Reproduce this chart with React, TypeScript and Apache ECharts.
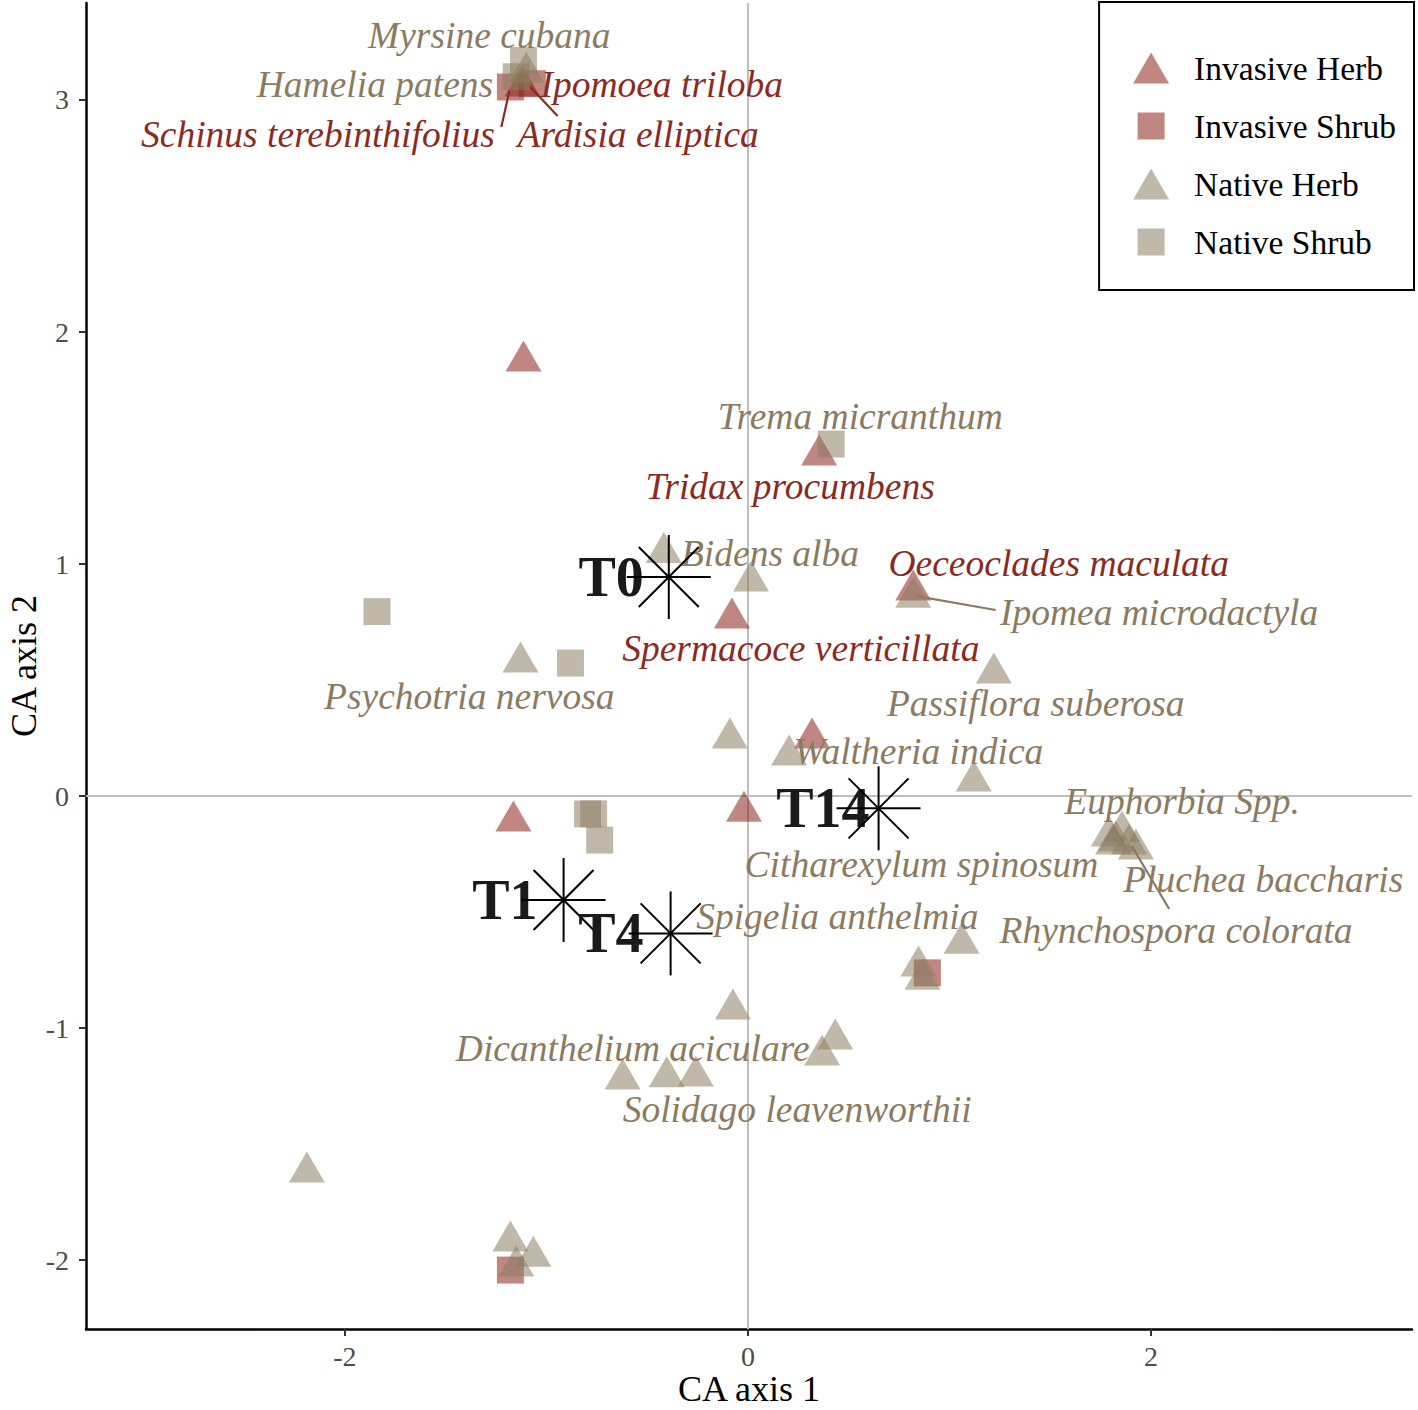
import React, { useEffect, useRef } from 'react';
import * as echarts from 'echarts';

// ---------- Data ----------
const X_MIN = -3.285;
const X_MAX = 3.295;
const Y_MIN = -2.297;
const Y_MAX = 3.418;
const xTicks = [-2, 0, 2];
const yTicks = [-2, -1, 0, 1, 2, 3];

const groupNames = ['Invasive Herb', 'Invasive Shrub', 'Native Herb', 'Native Shrub'];

const invasiveHerb: number[][] = [
  [-1.12, 3.06], [-1.114, 1.875], [0.353, 1.47], [-0.08, 0.767], [0.82, 0.888],
  [0.318, 0.25], [-0.02, -0.065], [-1.164, -0.108],
];
const invasiveShrub: number[][] = [
  [-1.179, 3.056], [-1.07, 3.07], [0.89, -0.762], [-1.179, -2.043],
];
const nativeHerb: number[][] = [
  [-1.10, 3.12], [-0.418, 1.05], [0.015, 0.927], [0.82, 0.857], [1.22, 0.53],
  [-1.129, 0.578], [-0.09, 0.25], [0.204, 0.177], [1.12, 0.065],
  [1.791, -0.172], [1.826, -0.194], [1.856, -0.151], [1.891, -0.207], [1.925, -0.228], [1.811, -0.207],
  [1.06, -0.634], [0.846, -0.733], [0.866, -0.79], [-0.075, -0.918],
  [0.433, -1.047], [0.368, -1.116], [-0.622, -1.22], [-0.403, -1.21], [-0.259, -1.207],
  [-2.189, -1.62], [-1.179, -1.918], [-1.065, -1.983], [-1.15, -2.026],
];
const nativeShrub: number[][] = [
  [-1.114, 3.17], [-1.15, 3.10], [0.413, 1.517], [-1.841, 0.795], [-0.881, 0.573],
  [-0.796, -0.077], [-0.766, -0.077], [-0.736, -0.19],
];

// species labels (text centre in data units), 0 = invasive, 1 = native
const labelNames = [
  'Myrsine cubana', 'Hamelia patens', 'Ipomoea triloba', 'Schinus terebinthifolius', 'Ardisia elliptica',
  'Trema micranthum', 'Tridax procumbens', 'Bidens alba', 'Oeceoclades maculata', 'Ipomea microdactyla',
  'Spermacoce verticillata', 'Psychotria nervosa', 'Passiflora suberosa', 'Waltheria indica', 'Euphorbia Spp.',
  'Citharexylum spinosum', 'Pluchea baccharis', 'Spigelia anthelmia', 'Rhynchospora colorata',
  'Dicanthelium aciculare', 'Solidago leavenworthii',
];
const labelX = [
  -1.284, -1.851, -0.428, -2.134, -0.545,
  0.557, 0.209, 0.109, 1.542, 2.04,
  0.262, -1.383, 1.428, 0.846, 2.154,
  0.861, 2.557, 0.443, 2.124,
  -0.572, 0.244,
];
const labelY = [
  3.276, 3.065, 3.065, 2.853, 2.853,
  1.634, 1.336, 1.044, 1.004, 0.793,
  0.634, 0.427, 0.397, 0.19, -0.022,
  -0.297, -0.358, -0.517, -0.578,
  -1.09, -1.349,
];
const labelGroup = [
  1, 1, 0, 0, 0,
  1, 0, 1, 0, 1,
  0, 1, 1, 1, 1,
  1, 1, 1, 1,
  1, 1,
];

// leader segments [x1, y1, x2, y2, group]
const segments: number[][] = [
  [-1.224, 2.884, -1.184, 3.039, 0],
  [-0.945, 2.931, -1.08, 3.056, 0],
  [0.836, 0.862, 1.229, 0.802, 1],
  [1.905, -0.216, 2.09, -0.487, 1],
];

// time-step centroids
const siteNames = ['T0', 'T1', 'T4', 'T14'];
const siteX = [-0.393, -0.915, -0.384, 0.648];
const siteY = [0.944, -0.448, -0.592, -0.053];
const siteLabelGap = [25, 26, 27, 9];

// ---------- Styles ----------
const INV_FILL = 'rgba(139,35,25,0.68)';
const NAT_FILL = 'rgba(139,125,98,0.68)';
const INV_TEXT = '#8B2A1E';
const NAT_TEXT = '#8B7B60';
const SERIF = '"Liberation Serif", "Times New Roman", serif';
const SQUARE_ICON = 'path://M0,0L0,0M36,31L36,31M4.5,2L31.5,2L31.5,29L4.5,29Z';

export default function App() {
  const ref = useRef<HTMLDivElement>(null);

  useEffect(() => {
    document.body.style.margin = '0';
    if (!ref.current) return;
    const chart = echarts.init(ref.current, undefined, { renderer: 'svg' });

    const triSize = [36, 31];
    const sqSize = 27;

    const option: any = {
      animation: false,
      backgroundColor: '#ffffff',
      grid: { left: 86, right: 6, top: 3, bottom: 81, containLabel: false, outerBoundsMode: 'none' },
      xAxis: {
        type: 'value', min: X_MIN, max: X_MAX,
        axisLine: { onZero: false, lineStyle: { color: '#000', width: 2.5 } },
        axisTick: { show: true, length: 7, lineStyle: { color: '#333', width: 2 }, customValues: xTicks },
        axisLabel: {
          customValues: xTicks, color: '#4D4D4D', fontSize: 28, fontFamily: SERIF, margin: 13,
          formatter: (v: number) => String(v),
        },
        splitLine: { show: false },
        name: 'CA axis 1', nameLocation: 'middle', nameGap: 42, nameMoveOverlap: false,
        nameTextStyle: { fontSize: 36, fontFamily: SERIF, color: '#000', lineHeight: 36 },
      },
      yAxis: {
        type: 'value', min: Y_MIN, max: Y_MAX,
        axisLine: { onZero: false, lineStyle: { color: '#000', width: 2.5 } },
        axisTick: { show: true, length: 7, lineStyle: { color: '#333', width: 2 }, customValues: yTicks },
        axisLabel: {
          customValues: yTicks, color: '#4D4D4D', fontSize: 28, fontFamily: SERIF, margin: 17,
          formatter: (v: number) => String(v),
        },
        splitLine: { show: false },
        name: 'CA axis 2', nameLocation: 'middle', nameGap: 44, nameMoveOverlap: false,
        nameTextStyle: { fontSize: 36, fontFamily: SERIF, color: '#000', lineHeight: 36 },
      },
      legend: {
        orient: 'vertical', right: 4, top: 2,
        data: [
          { name: 'Invasive Herb', icon: 'triangle' },
          { name: 'Invasive Shrub', icon: SQUARE_ICON },
          { name: 'Native Herb', icon: 'triangle' },
          { name: 'Native Shrub', icon: SQUARE_ICON },
        ],
        itemWidth: 36, itemHeight: 31, itemGap: 24,
        padding: [49, 18, 31, 34],
        borderColor: '#000', borderWidth: 2, borderRadius: 0,
        backgroundColor: '#fff',
        selectedMode: false,
        textStyle: { fontFamily: SERIF, fontSize: 33.5, color: '#000', padding: [0, 0, 0, 20], lineHeight: 31 },
      },
      series: [
        {
          type: 'custom', name: 'refLines', z: 1, silent: true,
          data: [[0, Y_MIN, 0, Y_MAX], [X_MIN, 0, X_MAX, 0]],
          encode: { x: [0, 2], y: [1, 3] },
          renderItem: (params: any, api: any) => {
            const a = api.coord([api.value(0), api.value(1)]);
            const b = api.coord([api.value(2), api.value(3)]);
            return { type: 'line', shape: { x1: a[0], y1: a[1], x2: b[0], y2: b[1] }, style: { stroke: '#BEBEBE', lineWidth: 2 } };
          },
        },
        {
          type: 'scatter', name: groupNames[0], data: invasiveHerb, symbol: 'triangle',
          symbolSize: triSize, symbolOffset: [0, -5], itemStyle: { color: INV_FILL }, z: 3, silent: true,
        },
        {
          type: 'scatter', name: groupNames[1], data: invasiveShrub, symbol: 'rect',
          symbolSize: sqSize, itemStyle: { color: INV_FILL }, z: 3, silent: true,
        },
        {
          type: 'scatter', name: groupNames[2], data: nativeHerb, symbol: 'triangle',
          symbolSize: triSize, symbolOffset: [0, -5], itemStyle: { color: NAT_FILL }, z: 3, silent: true,
        },
        {
          type: 'scatter', name: groupNames[3], data: nativeShrub, symbol: 'rect',
          symbolSize: sqSize, itemStyle: { color: NAT_FILL }, z: 3, silent: true,
        },
        {
          type: 'custom', name: 'segments', z: 4, silent: true,
          data: segments,
          encode: { x: [0, 2], y: [1, 3] },
          renderItem: (params: any, api: any) => {
            const a = api.coord([api.value(0), api.value(1)]);
            const b = api.coord([api.value(2), api.value(3)]);
            const g = api.value(4);
            return {
              type: 'line', shape: { x1: a[0], y1: a[1], x2: b[0], y2: b[1] },
              style: { stroke: g === 0 ? INV_TEXT : NAT_TEXT, lineWidth: 2.2 },
            };
          },
        },
        {
          type: 'custom', name: 'labels', z: 5, silent: true,
          data: labelNames.map((_, i) => [labelX[i], labelY[i], i]),
          encode: { x: 0, y: 1 },
          renderItem: (params: any, api: any) => {
            const i = api.value(2);
            const p = api.coord([api.value(0), api.value(1)]);
            return {
              type: 'text', x: p[0], y: p[1],
              style: {
                text: labelNames[i], fill: labelGroup[i] === 0 ? INV_TEXT : NAT_TEXT,
                fontSize: 37.5, fontStyle: 'italic', fontFamily: SERIF,
                align: 'center', verticalAlign: 'middle',
              },
            };
          },
        },
        {
          type: 'custom', name: 'sites', z: 6, silent: true,
          data: siteNames.map((_, i) => [siteX[i], siteY[i], i]),
          encode: { x: 0, y: 1 },
          renderItem: (params: any, api: any) => {
            const i = api.value(2);
            const c = api.coord([api.value(0), api.value(1)]);
            const cx = c[0], cy = c[1];
            const r = 42, d = 30;
            const ls = { stroke: '#000', lineWidth: 2 };
            return {
              type: 'group',
              children: [
                {
                  type: 'text', x: cx - siteLabelGap[i], y: cy,
                  style: {
                    text: siteNames[i], fill: '#1A1A1A', fontSize: 56, fontWeight: 'bold', fontFamily: SERIF,
                    align: 'right', verticalAlign: 'middle',
                  },
                },
                { type: 'line', shape: { x1: cx - r, y1: cy, x2: cx + r, y2: cy }, style: ls },
                { type: 'line', shape: { x1: cx, y1: cy - r, x2: cx, y2: cy + r }, style: ls },
                { type: 'line', shape: { x1: cx - d, y1: cy - d, x2: cx + d, y2: cy + d }, style: ls },
                { type: 'line', shape: { x1: cx - d, y1: cy + d, x2: cx + d, y2: cy - d }, style: ls },
              ],
            };
          },
        },
      ],
    };

    chart.setOption(option);
    return () => chart.dispose();
  }, []);

  return <div ref={ref} style={{ width: 1418, height: 1410 }} />;
}
